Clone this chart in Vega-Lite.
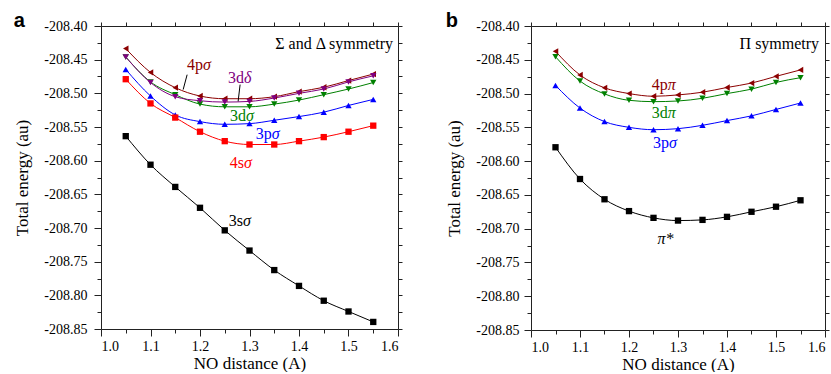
{
  "$schema": "https://vega.github.io/schema/vega-lite/v6.json",
  "padding": {"left": 13, "top": 11, "right": 0, "bottom": 0},
  "background": "white",
  "datasets": {
    "left": [
      {"s": "4pσ", "x": 1.05, "y": -208.4335}, {"s": "4pσ", "x": 1.10, "y": -208.469}, {"s": "4pσ", "x": 1.15, "y": -208.4916}, {"s": "4pσ", "x": 1.20, "y": -208.504}, {"s": "4pσ", "x": 1.25, "y": -208.508}, {"s": "4pσ", "x": 1.30, "y": -208.508}, {"s": "4pσ", "x": 1.35, "y": -208.505}, {"s": "4pσ", "x": 1.40, "y": -208.4975}, {"s": "4pσ", "x": 1.45, "y": -208.491}, {"s": "4pσ", "x": 1.50, "y": -208.481}, {"s": "4pσ", "x": 1.55, "y": -208.4714},
      {"s": "3dσ", "x": 1.05, "y": -208.446}, {"s": "3dσ", "x": 1.10, "y": -208.483}, {"s": "3dσ", "x": 1.15, "y": -208.502}, {"s": "3dσ", "x": 1.20, "y": -208.516}, {"s": "3dσ", "x": 1.25, "y": -208.520}, {"s": "3dσ", "x": 1.30, "y": -208.520}, {"s": "3dσ", "x": 1.35, "y": -208.516}, {"s": "3dσ", "x": 1.40, "y": -208.510}, {"s": "3dσ", "x": 1.45, "y": -208.502}, {"s": "3dσ", "x": 1.50, "y": -208.4936}, {"s": "3dσ", "x": 1.55, "y": -208.484},
      {"s": "3dδ", "x": 1.05, "y": -208.446}, {"s": "3dδ", "x": 1.10, "y": -208.484}, {"s": "3dδ", "x": 1.15, "y": -208.505}, {"s": "3dδ", "x": 1.20, "y": -208.511}, {"s": "3dδ", "x": 1.25, "y": -208.513}, {"s": "3dδ", "x": 1.30, "y": -208.512}, {"s": "3dδ", "x": 1.35, "y": -208.507}, {"s": "3dδ", "x": 1.40, "y": -208.500}, {"s": "3dδ", "x": 1.45, "y": -208.4936}, {"s": "3dδ", "x": 1.50, "y": -208.483}, {"s": "3dδ", "x": 1.55, "y": -208.474},
      {"s": "3pσ", "x": 1.05, "y": -208.4645}, {"s": "3pσ", "x": 1.10, "y": -208.504}, {"s": "3pσ", "x": 1.15, "y": -208.532}, {"s": "3pσ", "x": 1.20, "y": -208.542}, {"s": "3pσ", "x": 1.25, "y": -208.546}, {"s": "3pσ", "x": 1.30, "y": -208.545}, {"s": "3pσ", "x": 1.35, "y": -208.540}, {"s": "3pσ", "x": 1.40, "y": -208.5345}, {"s": "3pσ", "x": 1.45, "y": -208.528}, {"s": "3pσ", "x": 1.50, "y": -208.518}, {"s": "3pσ", "x": 1.55, "y": -208.509},
      {"s": "4sσ", "x": 1.05, "y": -208.479}, {"s": "4sσ", "x": 1.10, "y": -208.515}, {"s": "4sσ", "x": 1.15, "y": -208.536}, {"s": "4sσ", "x": 1.20, "y": -208.557}, {"s": "4sσ", "x": 1.25, "y": -208.571}, {"s": "4sσ", "x": 1.30, "y": -208.576}, {"s": "4sσ", "x": 1.35, "y": -208.576}, {"s": "4sσ", "x": 1.40, "y": -208.571}, {"s": "4sσ", "x": 1.45, "y": -208.565}, {"s": "4sσ", "x": 1.50, "y": -208.557}, {"s": "4sσ", "x": 1.55, "y": -208.548},
      {"s": "3sσ", "x": 1.05, "y": -208.5636}, {"s": "3sσ", "x": 1.10, "y": -208.606}, {"s": "3sσ", "x": 1.15, "y": -208.639}, {"s": "3sσ", "x": 1.20, "y": -208.670}, {"s": "3sσ", "x": 1.25, "y": -208.7035}, {"s": "3sσ", "x": 1.30, "y": -208.7335}, {"s": "3sσ", "x": 1.35, "y": -208.7625}, {"s": "3sσ", "x": 1.40, "y": -208.786}, {"s": "3sσ", "x": 1.45, "y": -208.808}, {"s": "3sσ", "x": 1.50, "y": -208.824}, {"s": "3sσ", "x": 1.55, "y": -208.8395}
    ],
    "right": [
      {"s": "4pπ", "x": 1.05, "y": -208.4375}, {"s": "4pπ", "x": 1.10, "y": -208.4725}, {"s": "4pπ", "x": 1.15, "y": -208.4915}, {"s": "4pπ", "x": 1.20, "y": -208.500}, {"s": "4pπ", "x": 1.25, "y": -208.504}, {"s": "4pπ", "x": 1.30, "y": -208.502}, {"s": "4pπ", "x": 1.35, "y": -208.498}, {"s": "4pπ", "x": 1.40, "y": -208.491}, {"s": "4pπ", "x": 1.45, "y": -208.4845}, {"s": "4pπ", "x": 1.50, "y": -208.4745}, {"s": "4pπ", "x": 1.55, "y": -208.465},
      {"s": "3dπ", "x": 1.05, "y": -208.4455}, {"s": "3dπ", "x": 1.10, "y": -208.4815}, {"s": "3dπ", "x": 1.15, "y": -208.5005}, {"s": "3dπ", "x": 1.20, "y": -208.510}, {"s": "3dπ", "x": 1.25, "y": -208.512}, {"s": "3dπ", "x": 1.30, "y": -208.511}, {"s": "3dπ", "x": 1.35, "y": -208.507}, {"s": "3dπ", "x": 1.40, "y": -208.500}, {"s": "3dπ", "x": 1.45, "y": -208.4935}, {"s": "3dπ", "x": 1.50, "y": -208.4835}, {"s": "3dπ", "x": 1.55, "y": -208.4765},
      {"s": "3pσ", "x": 1.05, "y": -208.488}, {"s": "3pσ", "x": 1.10, "y": -208.5215}, {"s": "3pσ", "x": 1.15, "y": -208.5415}, {"s": "3pσ", "x": 1.20, "y": -208.550}, {"s": "3pσ", "x": 1.25, "y": -208.5535}, {"s": "3pσ", "x": 1.30, "y": -208.552}, {"s": "3pσ", "x": 1.35, "y": -208.547}, {"s": "3pσ", "x": 1.40, "y": -208.540}, {"s": "3pσ", "x": 1.45, "y": -208.533}, {"s": "3pσ", "x": 1.50, "y": -208.5235}, {"s": "3pσ", "x": 1.55, "y": -208.514},
      {"s": "π*", "x": 1.05, "y": -208.5795}, {"s": "π*", "x": 1.10, "y": -208.6265}, {"s": "π*", "x": 1.15, "y": -208.6565}, {"s": "π*", "x": 1.20, "y": -208.674}, {"s": "π*", "x": 1.25, "y": -208.684}, {"s": "π*", "x": 1.30, "y": -208.688}, {"s": "π*", "x": 1.35, "y": -208.687}, {"s": "π*", "x": 1.40, "y": -208.6825}, {"s": "π*", "x": 1.45, "y": -208.675}, {"s": "π*", "x": 1.50, "y": -208.6675}, {"s": "π*", "x": 1.55, "y": -208.658}
    ],
    "leftLabels": [
      {"s": "4pσ", "pre": "4p", "gr": "σ", "x": 1.206, "y": -208.4575},
      {"s": "3dδ", "pre": "3d", "gr": "δ", "x": 1.289, "y": -208.4767},
      {"s": "3dσ", "pre": "3d", "gr": "σ", "x": 1.293, "y": -208.534},
      {"s": "3pσ", "pre": "3p", "gr": "σ", "x": 1.345, "y": -208.561},
      {"s": "4sσ", "pre": "4s", "gr": "σ", "x": 1.289, "y": -208.6036},
      {"s": "3sσ", "pre": "3s", "gr": "σ", "x": 1.287, "y": -208.689}
    ],
    "rightLabels": [
      {"s": "4pπ", "pre": "4p", "gr": "π", "x": 1.279, "y": -208.488},
      {"s": "3dπ", "pre": "3d", "gr": "π", "x": 1.279, "y": -208.5286},
      {"s": "3pσ", "pre": "3p", "gr": "σ", "x": 1.2815, "y": -208.573},
      {"s": "π*", "pre": "", "gr": "π*", "x": 1.258, "y": -208.7155}
    ],
    "leftLeaders": [
      {"x": 1.166, "y": -208.4944, "x2": 1.174, "y2": -208.4723},
      {"x": 1.277, "y": -208.512, "x2": 1.281, "y2": -208.487}
    ],
    "leftHead": [{"t": "Σ and Δ symmetry", "x": 1.59, "y": -208.4266}],
    "rightHead": [{"t": "Π symmetry", "x": 1.588, "y": -208.427}]
  },
  "hconcat": [
    {
      "title": {"text": "a", "anchor": "start", "frame": "bounds", "offset": -12},
      "width": 297,
      "height": 303,
      "layer": [
        {
          "data": {"name": "left"},
          "mark": {"type": "line", "interpolate": "monotone", "strokeWidth": 1},
          "encoding": {
            "x": {"field": "x", "type": "quantitative", "scale": {"domain": [1.0, 1.6], "nice": false, "zero": false},
              "axis": {"orient": "bottom", "values": [1.0, 1.1, 1.2, 1.3, 1.4, 1.5, 1.6], "format": ".1f", "tickSize": 7, "labelPadding": 3, "title": "NO distance (A)", "titlePadding": 2}},
            "y": {"field": "y", "type": "quantitative", "scale": {"domain": [-208.85, -208.4], "nice": false, "zero": false},
              "axis": {"orient": "left", "values": [-208.85, -208.8, -208.75, -208.7, -208.65, -208.6, -208.55, -208.5, -208.45, -208.4], "labelExpr": "'-' + format(-datum.value, '.2f')", "tickSize": 7, "labelPadding": 7, "title": "Total energy (au)", "titlePadding": 12}},
            "color": {"field": "s", "type": "nominal", "scale": {"domain": ["4pσ", "3dδ", "3dσ", "3pσ", "4sσ", "3sσ"], "range": ["#8b0000", "#800080", "#008000", "#0000ff", "#ff0000", "#000000"]}, "legend": null}
          }
        },
        {
          "data": {"name": "left"},
          "mark": {"type": "point", "filled": true, "opacity": 1, "size": 40},
          "encoding": {
            "x": {"field": "x", "type": "quantitative", "axis": null},
            "y": {"field": "y", "type": "quantitative", "axis": null},
            "color": {"field": "s", "type": "nominal", "legend": null},
            "shape": {"field": "s", "type": "nominal", "scale": {"domain": ["4pσ", "3dδ", "3dσ", "3pσ", "4sσ", "3sσ"], "range": ["triangle-left", "triangle-down", "triangle-down", "triangle-up", "square", "square"]}, "legend": null}
          }
        },
        {
          "data": {"name": "left"},
          "mark": {"type": "point", "opacity": 0},
          "encoding": {
            "x": {"field": "x", "type": "quantitative", "axis": {"orient": "bottom", "values": [1.05, 1.15, 1.25, 1.35, 1.45, 1.55], "labels": false, "domain": false, "tickSize": 4, "title": null}},
            "y": {"field": "y", "type": "quantitative", "axis": {"orient": "left", "values": [-208.825, -208.775, -208.725, -208.675, -208.625, -208.575, -208.525, -208.475, -208.425], "labels": false, "domain": false, "tickSize": 4, "title": null}}
          }
        },
        {
          "data": {"name": "left"},
          "mark": {"type": "point", "opacity": 0},
          "encoding": {
            "x": {"field": "x", "type": "quantitative", "axis": {"orient": "top", "values": [1.0, 1.05, 1.1, 1.15, 1.2, 1.25, 1.3, 1.35, 1.4, 1.45, 1.5, 1.55, 1.6], "labels": false, "tickSize": 4, "title": null}},
            "y": {"field": "y", "type": "quantitative", "axis": {"orient": "right", "values": [-208.85, -208.825, -208.8, -208.775, -208.75, -208.725, -208.7, -208.675, -208.65, -208.625, -208.6, -208.575, -208.55, -208.525, -208.5, -208.475, -208.45, -208.425, -208.4], "labels": false, "tickSize": 4, "title": null}}
          }
        },
        {
          "data": {"name": "leftLeaders"},
          "mark": {"type": "rule", "color": "#000", "strokeWidth": 1},
          "encoding": {
            "x": {"field": "x", "type": "quantitative", "axis": null},
            "y": {"field": "y", "type": "quantitative", "axis": null},
            "x2": {"field": "x2"},
            "y2": {"field": "y2"}
          }
        },
        {
          "data": {"name": "leftLabels"},
          "mark": {"type": "text", "font": "serif", "fontSize": 16, "align": "right", "baseline": "middle"},
          "encoding": {
            "x": {"field": "x", "type": "quantitative", "axis": null},
            "y": {"field": "y", "type": "quantitative", "axis": null},
            "text": {"field": "pre"},
            "color": {"field": "s", "type": "nominal", "legend": null}
          }
        },
        {
          "data": {"name": "leftLabels"},
          "mark": {"type": "text", "font": "serif", "fontSize": 16, "fontStyle": "italic", "align": "left", "baseline": "middle"},
          "encoding": {
            "x": {"field": "x", "type": "quantitative", "axis": null},
            "y": {"field": "y", "type": "quantitative", "axis": null},
            "text": {"field": "gr"},
            "color": {"field": "s", "type": "nominal", "legend": null}
          }
        },
        {
          "data": {"name": "leftHead"},
          "mark": {"type": "text", "font": "serif", "fontSize": 16, "align": "right", "baseline": "middle", "color": "#000"},
          "encoding": {
            "x": {"field": "x", "type": "quantitative", "axis": null},
            "y": {"field": "y", "type": "quantitative", "axis": null},
            "text": {"field": "t"}
          }
        }
      ],
      "resolve": {"axis": {"x": "independent", "y": "independent"}}
    },
    {
      "title": {"text": "b", "anchor": "start", "frame": "bounds", "offset": -12},
      "width": 294,
      "height": 304,
      "layer": [
        {
          "data": {"name": "right"},
          "mark": {"type": "line", "interpolate": "monotone", "strokeWidth": 1},
          "encoding": {
            "x": {"field": "x", "type": "quantitative", "scale": {"domain": [1.0, 1.6], "nice": false, "zero": false},
              "axis": {"orient": "bottom", "values": [1.0, 1.1, 1.2, 1.3, 1.4, 1.5, 1.6], "format": ".1f", "tickSize": 7, "labelPadding": 3, "title": "NO distance (A)", "titlePadding": 2}},
            "y": {"field": "y", "type": "quantitative", "scale": {"domain": [-208.85, -208.4], "nice": false, "zero": false},
              "axis": {"orient": "left", "values": [-208.85, -208.8, -208.75, -208.7, -208.65, -208.6, -208.55, -208.5, -208.45, -208.4], "labelExpr": "'-' + format(-datum.value, '.2f')", "tickSize": 7, "labelPadding": 5, "title": "Total energy (au)", "titlePadding": 12}},
            "color": {"field": "s", "type": "nominal", "scale": {"domain": ["4pπ", "3dπ", "3pσ", "π*"], "range": ["#8b0000", "#008000", "#0000ff", "#000000"]}, "legend": null}
          }
        },
        {
          "data": {"name": "right"},
          "mark": {"type": "point", "filled": true, "opacity": 1, "size": 40},
          "encoding": {
            "x": {"field": "x", "type": "quantitative", "axis": null},
            "y": {"field": "y", "type": "quantitative", "axis": null},
            "color": {"field": "s", "type": "nominal", "legend": null},
            "shape": {"field": "s", "type": "nominal", "scale": {"domain": ["4pπ", "3dπ", "3pσ", "π*"], "range": ["triangle-left", "triangle-down", "triangle-up", "square"]}, "legend": null}
          }
        },
        {
          "data": {"name": "right"},
          "mark": {"type": "point", "opacity": 0},
          "encoding": {
            "x": {"field": "x", "type": "quantitative", "axis": {"orient": "bottom", "values": [1.05, 1.15, 1.25, 1.35, 1.45, 1.55], "labels": false, "domain": false, "tickSize": 4, "title": null}},
            "y": {"field": "y", "type": "quantitative", "axis": {"orient": "left", "values": [-208.825, -208.775, -208.725, -208.675, -208.625, -208.575, -208.525, -208.475, -208.425], "labels": false, "domain": false, "tickSize": 4, "title": null}}
          }
        },
        {
          "data": {"name": "right"},
          "mark": {"type": "point", "opacity": 0},
          "encoding": {
            "x": {"field": "x", "type": "quantitative", "axis": {"orient": "top", "values": [1.0, 1.05, 1.1, 1.15, 1.2, 1.25, 1.3, 1.35, 1.4, 1.45, 1.5, 1.55, 1.6], "labels": false, "tickSize": 4, "title": null}},
            "y": {"field": "y", "type": "quantitative", "axis": {"orient": "right", "values": [-208.85, -208.825, -208.8, -208.775, -208.75, -208.725, -208.7, -208.675, -208.65, -208.625, -208.6, -208.575, -208.55, -208.525, -208.5, -208.475, -208.45, -208.425, -208.4], "labels": false, "tickSize": 4, "title": null}}
          }
        },
        {
          "data": {"name": "rightLabels"},
          "mark": {"type": "text", "font": "serif", "fontSize": 16, "align": "right", "baseline": "middle"},
          "encoding": {
            "x": {"field": "x", "type": "quantitative", "axis": null},
            "y": {"field": "y", "type": "quantitative", "axis": null},
            "text": {"field": "pre"},
            "color": {"field": "s", "type": "nominal", "legend": null}
          }
        },
        {
          "data": {"name": "rightLabels"},
          "mark": {"type": "text", "font": "serif", "fontSize": 16, "fontStyle": "italic", "align": "left", "baseline": "middle"},
          "encoding": {
            "x": {"field": "x", "type": "quantitative", "axis": null},
            "y": {"field": "y", "type": "quantitative", "axis": null},
            "text": {"field": "gr"},
            "color": {"field": "s", "type": "nominal", "legend": null}
          }
        },
        {
          "data": {"name": "rightHead"},
          "mark": {"type": "text", "font": "serif", "fontSize": 16, "align": "right", "baseline": "middle", "color": "#000"},
          "encoding": {
            "x": {"field": "x", "type": "quantitative", "axis": null},
            "y": {"field": "y", "type": "quantitative", "axis": null},
            "text": {"field": "t"}
          }
        }
      ],
      "resolve": {"axis": {"x": "independent", "y": "independent"}}
    }
  ],
  "resolve": {"scale": {"color": "independent", "shape": "independent"}},
  "spacing": 42,
  "config": {
    "view": {"stroke": null},
    "axis": {
      "grid": false,
      "labelFont": "serif",
      "labelFontSize": 14,
      "labelColor": "#000",
      "titleFont": "serif",
      "titleFontSize": 17,
      "titleFontWeight": "normal",
      "titleColor": "#000",
      "domainColor": "#222",
      "tickColor": "#222",
      "domainWidth": 1,
      "tickWidth": 1
    },
    "title": {"font": "Liberation Sans, Arial, sans-serif", "fontSize": 20, "fontWeight": "bold", "color": "#000"}
  }
}
